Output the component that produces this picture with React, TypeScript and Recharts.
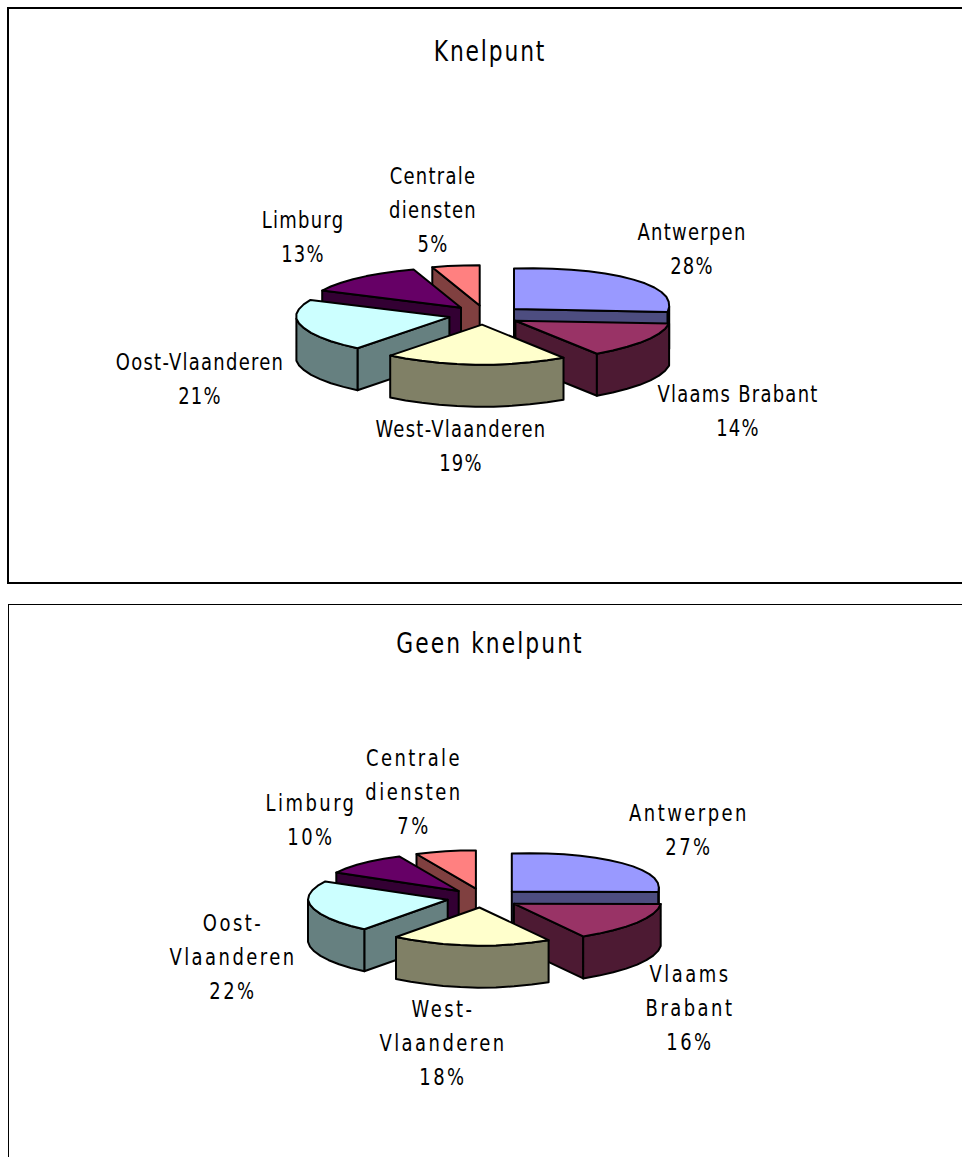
import { PieChart, Pie, Cell } from 'recharts'

const categories = ['Antwerpen', 'Vlaams Brabant', 'West-Vlaanderen', 'Oost-Vlaanderen', 'Limburg', 'Centrale diensten']
const knelpuntValues = [28, 14, 19, 21, 13, 5]
const geenKnelpuntValues = [27, 16, 18, 22, 10, 7]
const topColors = ['#9999FF', '#993366', '#FFFFCC', '#CCFFFF', '#660066', '#FF8080']
const wallColors = ['#4D4D80', '#4D1A33', '#808066', '#668080', '#330033', '#804040']

// back to front, so nearer slices cover the ones behind them
const paintOrder = [0, 5, 4, 3, 1, 2]

const knelpuntLines = [['Antwerpen'], ['Vlaams Brabant'], ['West-Vlaanderen'], ['Oost-Vlaanderen'], ['Limburg'], ['Centrale', 'diensten']]
const geenKnelpuntLines = [['Antwerpen'], ['Vlaams', 'Brabant'], ['West-', 'Vlaanderen'], ['Oost-', 'Vlaanderen'], ['Limburg'], ['Centrale', 'diensten']]

// centre x / first baseline y of every label block, in chart pixels
const knelpuntLabelPos = [[692, 240], [738, 402], [461, 437], [200, 370], [303, 228], [433, 184]]
const geenKnelpuntLabelPos = [[689, 226], [690, 387], [443, 422], [233, 336], [311, 216], [414, 171]]

const FONT = '"DejaVu Sans Condensed", "DejaVu Sans", sans-serif'
const TEXT_SQUEEZE = 0.85
const TILT = 0.26
const SHEAR = 0.03
const FRONT_SKEW = 0.05
const DEPTH = 42
const EXPLODE = 37

const rad = (deg: number) => (deg * Math.PI) / 180

function toPath(points: number[][]) {
  return points.map((p, i) => `${i ? 'L' : 'M'}${p[0].toFixed(1)},${p[1].toFixed(1)}`).join(' ') + ' Z'
}

/** Draws one slice as an extruded, tilted wedge from the sector the Pie computed. */
function wedgeShape(only: number, leftScale: number) {
  return function Wedge(props: any) {
    const idx = categories.indexOf(props.name ?? props.payload?.name)
    if (idx !== only) return <g />
    const { cx, cy, outerRadius: r, startAngle, endAngle } = props
    const mid = (startAngle + endAngle) / 2
    const ox = EXPLODE * Math.cos(rad(mid))
    const oy = EXPLODE * Math.sin(rad(mid))
    // the original's projection is a bit lopsided: right side lifted, pushed right in front
    const project = (x: number, y: number, drop = 0) => [
      cx + ox + (x > 0 ? x : x * leftScale) + FRONT_SKEW * Math.max(0, -y),
      cy - (oy + y) * TILT - SHEAR * Math.max(0, x) + drop,
    ]
    const rim = (a: number, drop = 0) => project(r * Math.cos(rad(a)), r * Math.sin(rad(a)), drop)

    const arc: number[] = []
    const steps = Math.max(2, Math.round((startAngle - endAngle) / 7))
    for (let i = 0; i <= steps; i++) arc.push(startAngle + ((endAngle - startAngle) * i) / steps)

    const top = [project(0, 0), ...arc.map((a) => rim(a))]
    const front = arc.filter((a) => Math.sin(rad(a)) <= 0.001)
    const rimWall = front.length > 1
      ? [...front.map((a) => rim(a)), ...[...front].reverse().map((a) => rim(a, DEPTH))]
      : null
    const radialWall = (a: number) => [project(0, 0), rim(a), rim(a, DEPTH), project(0, 0, DEPTH)]
    const common = { stroke: '#000', strokeWidth: 2, strokeLinejoin: 'round' as const }

    return (
      <g>
        {Math.cos(rad(startAngle)) < -0.001 && <path d={toPath(radialWall(startAngle))} fill={wallColors[idx]} {...common} />}
        {Math.cos(rad(endAngle)) > 0.001 && <path d={toPath(radialWall(endAngle))} fill={wallColors[idx]} {...common} />}
        {rimWall && <path d={toPath(rimWall)} fill={wallColors[idx]} {...common} />}
        <path d={toPath(top)} fill={topColors[idx]} {...common} />
      </g>
    )
  }
}

function labelRenderer(lines: string[][], pos: number[][], spacing: number) {
  return function SliceLabel(props: any) {
    const idx = categories.indexOf(props.name ?? props.payload?.name)
    const rows = [...lines[idx], `${Math.round(props.percent * 100)}%`]
    return (
      <text
        transform={`translate(${pos[idx][0]},${pos[idx][1]}) scale(${TEXT_SQUEEZE},1)`}
        textAnchor="middle"
        fontFamily={FONT}
        fontSize={23.5}
        letterSpacing={spacing}
        fill="#000"
      >
        {rows.map((row, i) => (
          <tspan key={row} x={0} dy={i ? 34 : 0}>{row}</tspan>
        ))}
      </text>
    )
  }
}

interface Pie3DProps {
  title: string
  titleY: number
  titleSpacing: number
  labelSpacing: number
  values: number[]
  lines: string[][]
  labelPos: number[][]
  cx: number
  cy: number
  radius: number
  leftScale: number
  top: number
  height: number
}

function Pie3D({ title, titleY, titleSpacing, labelSpacing, values, lines, labelPos, cx, cy, radius, leftScale, top, height }: Pie3DProps) {
  const data = categories.map((name, i) => ({ name, value: values[i] }))
  return (
    <div style={{ position: 'absolute', left: 0, top }}>
      <PieChart width={962} height={height} margin={{ top: 0, right: 0, bottom: 0, left: 0 }}>
        <text
          transform={`translate(490,${titleY}) scale(${TEXT_SQUEEZE},1)`}
          textAnchor="middle"
          fontFamily={FONT}
          fontSize={28.5}
          letterSpacing={titleSpacing}
          fill="#000"
        >
          {title}
        </text>
        {paintOrder.map((i, n) => (
          <Pie
            key={categories[i]}
            data={data}
            dataKey="value"
            nameKey="name"
            cx={cx}
            cy={cy}
            outerRadius={radius}
            startAngle={90}
            endAngle={-270}
            isAnimationActive={false}
            shape={wedgeShape(i, leftScale)}
            label={n === paintOrder.length - 1 ? labelRenderer(lines, labelPos, labelSpacing) : false}
            labelLine={false}
          >
            {categories.map((c, j) => <Cell key={c} fill={topColors[j]} />)}
          </Pie>
        ))}
      </PieChart>
    </div>
  )
}

export default function App() {
  return (
    <div style={{ position: 'absolute', left: 0, top: 0, width: 962, height: 1157, overflow: 'hidden', background: '#fff' }}>
      <div style={{ position: 'absolute', left: 7, top: 7, width: 1000, height: 573, border: '2px solid #000', boxSizing: 'content-box' }} />
      <div style={{ position: 'absolute', left: 8, top: 604, width: 1000, height: 600, border: '1px solid #000' }} />
      <Pie3D title="Knelpunt" titleY={61} titleSpacing={2.2} labelSpacing={1.5} values={knelpuntValues} lines={knelpuntLines} labelPos={knelpuntLabelPos}
        cx={485.5} cy={315} radius={155} leftScale={0.99} top={0} height={590} />
      <Pie3D title="Geen knelpunt" titleY={58} titleSpacing={2.45} labelSpacing={2.9} values={geenKnelpuntValues} lines={geenKnelpuntLines} labelPos={geenKnelpuntLabelPos}
        cx={484} cy={303} radius={147} leftScale={0.95} top={595} height={562} />
    </div>
  )
}
